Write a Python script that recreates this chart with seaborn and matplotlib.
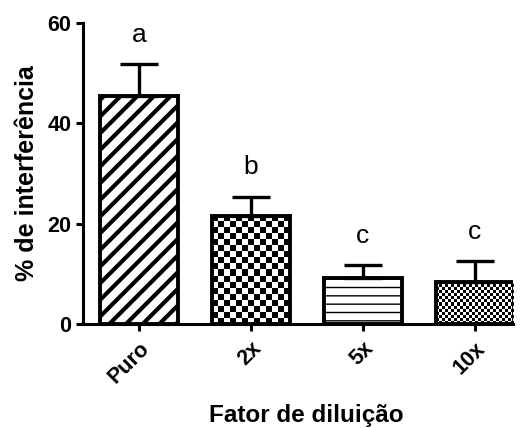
import matplotlib
matplotlib.use("Agg")
import matplotlib.pyplot as plt
import seaborn as sns
import numpy as np
import pandas as pd

# --- data ---
categories = ['Puro', '2x', '5x', '10x']
means = [45.4, 21.6, 9.2, 8.4]
errors = [6.4, 3.8, 2.6, 4.2]
letters = ['a', 'b', 'c', 'c']

df = pd.DataFrame({'Fator': categories, 'Interf': means})

sns.set_theme(style="ticks")
plt.rcParams['font.family'] = ['Liberation Sans', 'DejaVu Sans']
plt.rcParams['hatch.color'] = 'black'
plt.rcParams['text.color'] = 'black'

fig = plt.figure(figsize=(5.23, 4.28), dpi=100)
ax = fig.add_axes([83 / 523, 1 - 324 / 428, (513 - 83) / 523, (324 - 23) / 428])

sns.barplot(data=df, x='Fator', y='Interf', ax=ax, color='white',
            width=0.69, edgecolor='black', linewidth=2.8, errorbar=None)

ax.set_xlim(-0.5, 3.34)
ax.set_ylim(0, 60)
ax.set_yticks([0, 20, 40, 60])

# fills: diagonal stripes, coarse checker, horizontal lines, fine checker
patches = list(ax.patches)
fills = [('hatch', '//'), ('checker', 6), ('hatch', '--'), ('checker', 3)]
px_per_x = (513 - 83) / (3.34 + 0.5)
px_per_y = (324 - 23) / 60
for p, (kind, val) in zip(patches, fills):
    p.set_zorder(3)
    if kind == 'hatch':
        p.set_hatch(val)
        if hasattr(p, 'set_hatch_linewidth'):
            p.set_hatch_linewidth(3.0 if val == '//' else 1.0)
    else:
        p.set_facecolor('none')
        x0, y0 = p.get_x(), p.get_y()
        w, h = p.get_width(), p.get_height()
        nx = max(1, int(round(w * px_per_x / val)))
        ny = max(1, int(round(h * px_per_y / val)))
        board = (np.indices((ny, nx)).sum(axis=0) % 2).astype(float)
        im = ax.imshow(board, cmap='gray', extent=[x0, x0 + w, y0, y0 + h],
                       interpolation='nearest', aspect='auto', zorder=2,
                       vmin=0, vmax=1)
        im.set_clip_path(p)
ax.set_xlim(-0.5, 3.34)
ax.set_ylim(0, 60)

# upper error bars only
xs = np.arange(len(categories))
ax.errorbar(xs, means, yerr=[np.zeros(len(means)), errors], fmt='none',
            ecolor='black', elinewidth=2.4, capsize=13.5, capthick=2.4, zorder=4)

# significance letters
for x, m, e, t in zip(xs, means, errors, letters):
    ax.annotate(t, (x, m + e), xytext=(0, 16), textcoords='offset points',
                ha='center', va='baseline', fontsize=19, color='black')

sns.despine(ax=ax)
for s in ['left', 'bottom']:
    ax.spines[s].set_linewidth(2.2)
    ax.spines[s].set_color('black')
ax.tick_params(axis='both', width=2.2, length=5, color='black',
               labelsize=15.5, labelcolor='black')
ax.tick_params(axis='x', pad=5)
for lab in ax.get_yticklabels() + ax.get_xticklabels():
    lab.set_fontweight('bold')
plt.setp(ax.get_xticklabels(), rotation=45, ha='right', rotation_mode='anchor')

ax.set_xlabel('Fator de diluição', fontsize=17.5, fontweight='bold',
              labelpad=12, color='black')
ax.xaxis.label.set_x(0.5 + 8 / 430)
ax.set_ylabel('% de interferência', fontsize=18, fontweight='bold',
              labelpad=6, color='black')

fig.savefig('out.png', dpi=100)
